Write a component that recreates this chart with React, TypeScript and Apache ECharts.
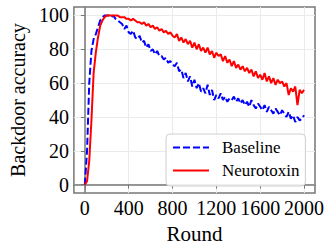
import React, { useEffect, useRef } from "react";
import * as echarts from "echarts";

const rounds: number[] = [];
for (let r = 0; r <= 2000; r += 20) rounds.push(r);

const baseline = [
  0, 20, 60, 79, 86, 89, 93, 97, 99, 100,
  100, 100, 99, 100, 98, 97, 96, 95, 92, 94,
  90, 89, 91, 87, 86, 88, 84, 85, 81, 83,
  79, 80, 77, 79, 76, 76, 74, 75, 72, 73,
  71, 70, 72, 67, 68, 63, 66, 61, 64, 58,
  62, 57, 60, 55, 57, 54, 59, 53, 56, 50,
  53, 51, 54, 50, 52, 49, 51, 50, 52, 49,
  51, 48, 50, 47, 49, 46, 50, 47, 45, 48,
  46, 44, 47, 43, 46, 44, 42, 45, 43, 41,
  44, 42, 40, 43, 39, 41, 37, 40, 38, 39,
  41,
];

const neurotoxin = [
  0, 2, 14, 38, 66, 78, 87, 94, 97, 99,
  100, 100, 100, 100, 100, 100, 99, 99, 99, 98,
  98, 97, 98, 97, 96, 96, 95, 96, 94, 95,
  93, 94, 92, 93, 91, 92, 90, 91, 89, 90,
  88, 87, 89, 85, 87, 84, 86, 83, 85, 81,
  84, 80, 83, 79, 81, 78, 81, 77, 79, 75,
  78, 76, 77, 73, 76, 72, 74, 70, 73, 69,
  71, 68, 70, 67, 69, 66, 68, 64, 67, 63,
  65, 62, 66, 61, 64, 60, 63, 59, 62, 60,
  61, 58, 60, 53, 57, 55, 58, 47, 56, 54,
  56,
];

const xTicks = [0, 400, 800, 1200, 1600, 2000];
const yTicks = [0, 20, 40, 60, 80, 100];
const seriesNames = ["Baseline", "Neurotoxin"];

const FONT = "Liberation Serif";

export default function App() {
  const ref = useRef<HTMLDivElement>(null);
  useEffect(() => {
    document.body.style.margin = "0";
    const chart = echarts.init(ref.current!, null, { renderer: "svg" });
    const axisCommon = {
      axisLine: { show: true, lineStyle: { color: "#777", width: 1.5 } },
      axisTick: { show: true, inside: false, length: 4, lineStyle: { color: "#777", width: 1 } },
      splitLine: { show: true, lineStyle: { color: "#ebebeb", width: 1 } },
      nameTextStyle: { fontFamily: FONT, fontSize: 20, color: "#000" },
    };
    const labelCommon = {
      margin: 5,
      fontFamily: FONT,
      fontSize: 20,
      color: "#000",
      hideOverlap: false,
      showMinLabel: true,
      showMaxLabel: true,
      formatter: (v: number) => String(v),
    };
    chart.setOption({
      animation: false,
      textStyle: { fontFamily: FONT },
      grid: {
        left: 64,
        top: 7,
        right: 17,
        bottom: 53,
        show: true,
        borderColor: "#777",
        borderWidth: 1.5,
        backgroundColor: "transparent",
      },
      xAxis: {
        type: "value",
        min: -100,
        max: 2100,
        name: "Round",
        nameLocation: "middle",
        nameGap: 15,
        ...axisCommon,
        nameTextStyle: { fontFamily: FONT, fontSize: 21, color: "#000" },
        axisTick: { ...axisCommon.axisTick, customValues: xTicks },
        axisLabel: { ...labelCommon, customValues: xTicks },
      },
      yAxis: {
        type: "value",
        min: -5,
        max: 105,
        name: "Backdoor accuracy",
        nameLocation: "middle",
        nameGap: 38,
        ...axisCommon,
        axisTick: { ...axisCommon.axisTick, customValues: yTicks },
        axisLabel: { ...labelCommon, customValues: yTicks },
      },
      legend: {
        orient: "vertical",
        left: 166,
        top: 134,
        itemWidth: 36,
        itemHeight: 18,
        itemGap: 6,
        padding: [5, 6, 7, 6],
        backgroundColor: "rgba(255,255,255,0.85)",
        borderColor: "#d0d0d0",
        borderWidth: 1,
        borderRadius: 4,
        itemStyle: { color: "transparent", borderWidth: 0, opacity: 0 },
        textStyle: { fontFamily: FONT, fontSize: 17, color: "#000", padding: [0, 0, 0, 8] },
        data: seriesNames,
      },
      series: [
        {
          name: seriesNames[0],
          type: "line",
          symbol: "none",
          data: rounds.map((r, i) => [r, baseline[i]]),
          lineStyle: { color: "#0000ff", width: 2, type: [7, 3] },
          itemStyle: { color: "#0000ff" },
        },
        {
          name: seriesNames[1],
          type: "line",
          symbol: "none",
          data: rounds.map((r, i) => [r, neurotoxin[i]]),
          lineStyle: { color: "#ff0000", width: 2 },
          itemStyle: { color: "#ff0000" },
        },
      ],
    });
    return () => chart.dispose();
  }, []);
  return (
    <div
      ref={ref}
      style={{ position: "absolute", left: 0, top: 0, width: 332, height: 249 }}
    />
  );
}
